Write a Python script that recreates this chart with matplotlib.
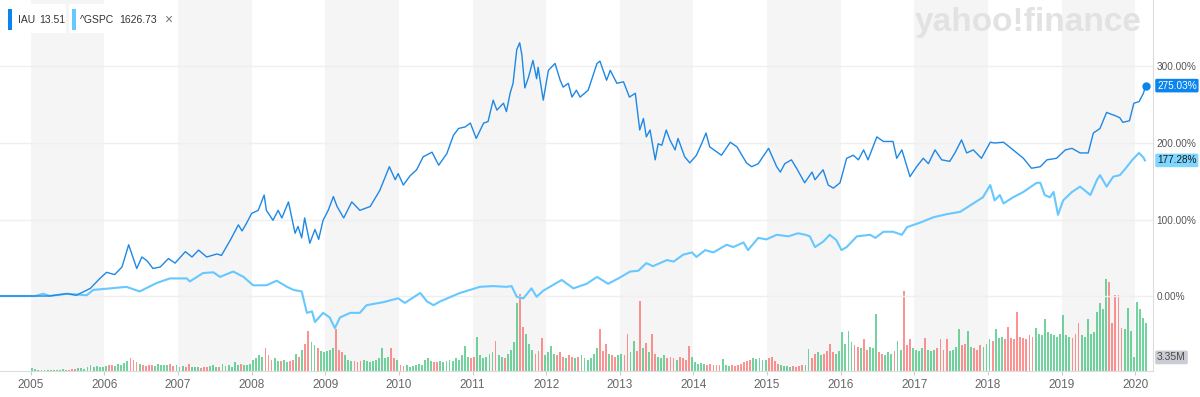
import numpy as np
import matplotlib
matplotlib.use("Agg")
import matplotlib.pyplot as plt
from matplotlib.patches import Rectangle

plt.rcParams['font.family'] = ['Liberation Sans', 'DejaVu Sans']

# IAU, % change since Jan 2005 (decimal year, percent)
iau_year = [2004.55, 2005.06, 2005.25, 2005.49, 2005.62, 2005.81, 2005.94, 2006.03, 2006.14, 2006.24,
            2006.33, 2006.44, 2006.51, 2006.58, 2006.66, 2006.76, 2006.87, 2006.96, 2007.10, 2007.19,
            2007.28, 2007.39, 2007.53, 2007.59, 2007.71, 2007.82, 2007.87, 2007.93, 2008.00, 2008.09,
            2008.17, 2008.20, 2008.29, 2008.36, 2008.41, 2008.50, 2008.59, 2008.63, 2008.68, 2008.72,
            2008.79, 2008.86, 2008.91, 2008.97, 2009.04, 2009.11, 2009.16, 2009.25, 2009.36, 2009.47,
            2009.61, 2009.74, 2009.87, 2009.95, 2009.99, 2010.06, 2010.15, 2010.24, 2010.33, 2010.45,
            2010.54, 2010.65, 2010.74, 2010.81, 2010.90, 2010.97, 2011.05, 2011.15, 2011.21, 2011.28,
            2011.33, 2011.42, 2011.46, 2011.51, 2011.55, 2011.60, 2011.64, 2011.67, 2011.71, 2011.76,
            2011.82, 2011.87, 2011.89, 2011.96, 2012.03, 2012.12, 2012.19, 2012.23, 2012.30, 2012.35,
            2012.41, 2012.46, 2012.57, 2012.69, 2012.73, 2012.82, 2012.87, 2012.96, 2013.05, 2013.13,
            2013.21, 2013.27, 2013.32, 2013.36, 2013.41, 2013.48, 2013.52, 2013.57, 2013.63, 2013.68,
            2013.75, 2013.79, 2013.88, 2013.95, 2014.04, 2014.11, 2014.17, 2014.22, 2014.38, 2014.50,
            2014.59, 2014.72, 2014.79, 2014.88, 2015.02, 2015.13, 2015.18, 2015.24, 2015.33, 2015.40,
            2015.51, 2015.61, 2015.65, 2015.76, 2015.83, 2015.90, 2015.99, 2016.08, 2016.17, 2016.24,
            2016.31, 2016.37, 2016.49, 2016.58, 2016.71, 2016.76, 2016.83, 2016.94, 2017.03, 2017.12,
            2017.19, 2017.28, 2017.37, 2017.48, 2017.55, 2017.64, 2017.71, 2017.80, 2017.91, 2018.03,
            2018.09, 2018.21, 2018.34, 2018.48, 2018.59, 2018.71, 2018.80, 2018.93, 2019.05, 2019.14,
            2019.25, 2019.36, 2019.43, 2019.52, 2019.61, 2019.66, 2019.72, 2019.79, 2019.83, 2019.92,
            2019.98, 2020.05, 2020.11, 2020.14]
iau_pct = [0, 0, 0, 3, 1, 10, 23, 31, 28, 38,
           67, 36, 51, 46, 36, 38, 49, 43, 58, 51,
           60, 51, 55, 53, 73, 93, 85, 95, 108, 112,
           132, 112, 99, 112, 102, 123, 82, 91, 76, 102,
           69, 87, 74, 99, 112, 130, 117, 102, 123, 112,
           117, 138, 169, 152, 160, 145, 157, 165, 182, 188,
           171, 186, 210, 219, 221, 226, 206, 226, 228, 256,
           243, 252, 241, 265, 278, 322, 331, 315, 272, 286,
           308, 284, 299, 256, 295, 304, 282, 273, 278, 260,
           269, 260, 269, 304, 307, 282, 295, 278, 280, 260,
           265, 217, 232, 208, 217, 178, 199, 197, 217, 204,
           191, 206, 182, 174, 184, 199, 213, 195, 184, 201,
           195, 174, 169, 173, 193, 169, 162, 173, 178, 167,
           148, 162, 152, 165, 145, 141, 148, 180, 184, 178,
           191, 178, 208, 202, 202, 180, 191, 156, 169, 180,
           173, 191, 178, 176, 187, 204, 187, 191, 180, 201,
           200, 201, 191, 180, 167, 169, 178, 180, 191, 193,
           187, 187, 213, 219, 240, 238, 236, 233, 227, 229,
           252, 254, 265, 275.03]

# ^GSPC, % change since Jan 2005
spx_year = [2004.55, 2005.06, 2005.17, 2005.26, 2005.49, 2005.76, 2005.85, 2006.08, 2006.30, 2006.48,
            2006.71, 2006.89, 2007.12, 2007.16, 2007.34, 2007.48, 2007.57, 2007.75, 2007.89, 2008.02,
            2008.20, 2008.34, 2008.48, 2008.57, 2008.68, 2008.75, 2008.82, 2008.86, 2008.97, 2009.06,
            2009.13, 2009.20, 2009.34, 2009.47, 2009.56, 2009.79, 2009.99, 2010.08, 2010.29, 2010.38,
            2010.47, 2010.56, 2010.83, 2011.10, 2011.28, 2011.46, 2011.53, 2011.60, 2011.69, 2011.80,
            2011.87, 2011.96, 2012.21, 2012.37, 2012.55, 2012.69, 2012.84, 2012.98, 2013.14, 2013.25,
            2013.36, 2013.45, 2013.64, 2013.73, 2013.86, 2013.98, 2014.04, 2014.16, 2014.27, 2014.45,
            2014.54, 2014.68, 2014.74, 2014.88, 2014.99, 2015.13, 2015.29, 2015.42, 2015.52, 2015.58,
            2015.65, 2015.76, 2015.85, 2015.94, 2016.01, 2016.08, 2016.22, 2016.40, 2016.47, 2016.58,
            2016.71, 2016.83, 2016.90, 2017.08, 2017.26, 2017.44, 2017.62, 2017.80, 2017.93, 2018.03,
            2018.09, 2018.16, 2018.21, 2018.34, 2018.48, 2018.66, 2018.71, 2018.77, 2018.84, 2018.89,
            2018.95, 2019.02, 2019.14, 2019.25, 2019.39, 2019.48, 2019.52, 2019.61, 2019.70, 2019.79,
            2019.87, 2019.96, 2020.05, 2020.11, 2020.13]
spx_pct = [0, 0, 3, 0, 3, 1, 8, 10, 12, 6,
           17, 23, 23, 19, 30, 31, 25, 32, 25, 14,
           14, 20, 12, 8, 6, -22, -20, -34, -22, -28,
           -42, -28, -22, -22, -12, -8, -3, -9, 4, -7,
           -12, -7, 4, 12, 13, 12, 13, -1, -3, 10,
           -1, 7, 21, 10, 16, 25, 16, 23, 32, 33,
           43, 39, 47, 45, 54, 57, 51, 60, 57, 67,
           64, 70, 60, 76, 74, 80, 78, 82, 80, 78,
           64, 71, 80, 73, 60, 64, 78, 80, 76, 84,
           84, 80, 90, 96, 103, 107, 110, 121, 129, 145,
           125, 132, 121, 129, 136, 148, 148, 132, 129, 136,
           106, 125, 136, 143, 132, 152, 158, 143, 156, 158,
           167, 178, 187, 181, 177.28]

# IAU volume, millions, twice a month from Jan 2005
volume = [
    0.2, 0.15, 0.1, 0.08, 0.07, 0.08, 0.07, 0.1, 0.08, 0.1, 0.12, 0.1, 0.1, 0.15, 0.12, 0.18, 0.2, 0.15, 0.25, 0.4, 0.3, 0.35, 0.25, 0.3,
    0.35, 0.4, 0.45, 0.35, 0.5, 0.4, 0.55, 0.7, 0.9, 0.8, 0.6, 0.5, 0.4, 0.35, 0.45, 0.4, 0.35, 0.5, 0.4, 0.45, 0.4, 0.5, 0.35, 0.4,
    0.3, 0.35, 0.25, 0.5, 0.3, 0.25, 0.3, 0.2, 0.25, 0.3, 0.35, 0.4, 0.3, 0.25, 0.5, 0.35, 0.4, 0.3, 0.6, 0.4, 0.5, 0.4, 0.45, 0.5,
    0.8, 0.9, 1.1, 1.0, 1.6, 1.1, 0.8, 0.9, 0.7, 0.7, 0.8, 0.6, 0.7, 0.8, 1.2, 1.0, 1.5, 1.9, 2.8, 2.0, 1.8, 1.6, 1.4, 1.3,
    1.4, 1.5, 1.6, 2.9, 1.5, 1.3, 1.1, 0.8, 0.7, 0.7, 0.6, 0.7, 0.8, 0.7, 0.6, 0.7, 0.8, 0.9, 1.6, 0.9, 1.0, 1.6, 0.9, 0.8,
    0.4, 0.35, 0.4, 0.3, 0.35, 0.4, 0.5, 0.4, 0.8, 0.9, 0.7, 0.6, 0.6, 0.7, 0.6, 0.7, 0.8, 0.7, 0.9, 0.8, 1.1, 1.75, 1.0, 0.9,
    1.0, 2.4, 1.1, 0.9, 1.0, 1.2, 1.3, 2.1, 1.1, 1.0, 0.9, 1.2, 1.5, 2.0, 4.75, 5.4, 3.1, 2.6, 1.9, 1.5, 1.2, 1.4, 2.3, 1.1,
    1.3, 1.75, 1.2, 1.1, 1.3, 1.0, 0.9, 1.1, 1.0, 0.9, 1.0, 1.1, 0.9, 0.8, 0.9, 1.2, 1.6, 2.9, 1.4, 1.9, 1.2, 1.1, 1.0, 1.1,
    1.2, 1.1, 2.6, 1.3, 2.1, 1.4, 4.9, 1.6, 1.95, 1.3, 2.6, 1.2, 1.0, 0.9, 1.1, 0.9, 1.0, 0.9, 0.8, 1.0, 0.9, 0.8, 1.75, 1.0,
    0.6, 0.5, 0.55, 0.5, 0.45, 0.5, 0.4, 0.45, 0.4, 0.85, 0.4, 0.35, 0.4, 0.35, 0.45, 0.5, 0.6, 0.7, 0.8, 0.9, 0.85, 0.9, 0.8, 0.75,
    0.9, 1.0, 0.7, 0.5, 0.4, 0.35, 0.35, 0.3, 0.35, 0.3, 0.35, 0.4, 0.45, 1.55, 0.9, 1.2, 1.3, 1.1, 1.2, 1.4, 1.9, 1.3, 1.2, 1.4,
    2.7, 1.9, 2.8, 2.0, 1.8, 1.7, 1.6, 2.2, 1.5, 1.7, 1.6, 4.0, 1.3, 1.2, 1.1, 1.3, 1.2, 1.4, 2.1, 1.5, 5.6, 1.8, 2.2, 1.6,
    1.5, 1.4, 1.6, 2.3, 1.5, 1.4, 1.5, 1.6, 2.2, 1.5, 2.2, 1.4, 1.5, 1.7, 2.9, 1.8, 1.9, 2.8, 1.7, 1.6, 1.5, 1.8, 1.7, 1.9,
    2.2, 2.1, 2.9, 2.3, 2.4, 2.2, 3.1, 2.3, 2.2, 4.1, 2.4, 2.3, 2.2, 2.5, 2.4, 3.0, 2.6, 2.5, 3.6, 2.7, 2.6, 2.5, 2.4, 2.6,
    3.9, 2.5, 2.4, 2.3, 2.6, 3.35, 2.5, 2.4, 3.6, 2.6, 2.7, 4.1, 4.75, 4.3, 6.4, 6.2, 3.35, 5.3, 5.3, 3.0, 2.9, 4.4, 2.8, 1.0,
    4.8, 4.3, 3.7, 3.35,
]

years = list(range(2005, 2021))
iau_label = ('IAU', '13.51')
spx_label = ('^GSPC', '1626.73')

IAU_COLOR = '#1e88e5'
SPX_COLOR = '#66c8ff'
GREEN = '#3cc27a'
RED = '#fb6a6a'

W, H = 1200, 397
fig = plt.figure(figsize=(W / 100, H / 100), dpi=100)

# volume axes underneath, price axes on top
ax_v = fig.add_axes([0, 26 / H, 1153 / W, 371 / H])
ax = ax_v.twinx()

x0, x1 = 2004.583, 2020.240
ax_v.set_xlim(x0, x1)
ax_v.set_ylim(0, 25.9)
ax.set_ylim(-98.0, 386.9)

# alternating year bands
for y in years[::2]:
    ax_v.axvspan(y, y + 1, color='#f5f5f5', lw=0, zorder=0)

# watermark
ax_v.text(1028 / 1153, 1 - 22 / 371, 'yahoo!finance', transform=ax_v.transAxes,
          ha='center', va='center', fontsize=24, fontweight='bold', color='#e2e2e2', zorder=1)

# volume bars coloured by IAU direction over the bar period
vol = np.array(volume)
vol_t = 2005 + (np.arange(len(vol)) + 0.5) / 24
p_end = np.interp(vol_t + 1 / 48, iau_year, iau_pct)
p_start = np.interp(vol_t - 1 / 48, iau_year, iau_pct)
colors = np.where(p_end >= p_start, GREEN, RED)
ax_v.bar(vol_t, vol, width=0.6 / 24, color=colors, alpha=0.72, lw=0, zorder=2)

# price lines
ax.plot(spx_year, spx_pct, color=SPX_COLOR, lw=1.5, zorder=3)
ax.plot(iau_year, iau_pct, color=IAU_COLOR, lw=1.0, zorder=4)
ax.plot(iau_year[-1], iau_pct[-1], 'o', ms=5, color='#0a84ee', zorder=5, clip_on=False)

# grid and axes styling
ax.set_yticks([0, 100, 200, 300])
ax.set_yticklabels([f'{v:.2f}%' for v in [0, 100, 200, 300]])
ax.grid(axis='y', color='#efefef', lw=1, zorder=1)
ax.tick_params(axis='y', length=0, pad=2.5, labelsize=7.2, labelcolor='#555555')
for s in ax.spines.values():
    s.set_visible(False)

ax_v.set_yticks([])
ax_v.set_xticks(years)
ax_v.set_xticklabels([str(y) for y in years])
ax_v.tick_params(axis='x', length=3, color='#cccccc', pad=3, labelsize=8.5, labelcolor='#666666')
ax_v.spines['top'].set_visible(False)
ax_v.spines['left'].set_visible(False)
ax_v.spines['bottom'].set_color('#dcdcdc')
ax_v.spines['right'].set_color('#dcdcdc')

# last value tags on the right
tag_box = dict(boxstyle='round,pad=0.18,rounding_size=0.15', ec='none')
ax.text(1.0035, iau_pct[-1], f'{iau_pct[-1]:.2f}%', transform=ax.get_yaxis_transform(),
        ha='left', va='center', fontsize=7.2, color='white', clip_on=False,
        bbox=dict(tag_box, fc='#0a84ee'))
ax.text(1.0035, spx_pct[-1], f'{spx_pct[-1]:.2f}%', transform=ax.get_yaxis_transform(),
        ha='left', va='center', fontsize=7.2, color='#1a1a1a', clip_on=False,
        bbox=dict(tag_box, fc='#7fd6ff'))
ax_v.text(1.0035, 0.6, f'{vol[-1]:.2f}M', transform=ax_v.get_yaxis_transform(),
          ha='left', va='bottom', fontsize=7.5, color='#4a4a4a', clip_on=False,
          bbox=dict(tag_box, fc='#cbccd3'))

# legend chips, top-left
def px(x, y):
    return x / W, 1 - y / H

fig.add_artist(Rectangle(px(4, 33), 62 / W, 29 / H, transform=fig.transFigure, fc='white', ec='none'))
fig.add_artist(Rectangle(px(69, 33), 106 / W, 29 / H, transform=fig.transFigure, fc='white', ec='none'))
fig.add_artist(Rectangle(px(8, 30), 4 / W, 21 / H, transform=fig.transFigure, fc='#0a84ee', ec='none'))
fig.add_artist(Rectangle(px(72, 30), 4 / W, 21 / H, transform=fig.transFigure, fc=SPX_COLOR, ec='none'))
legend_kw = dict(fontsize=7.5, color='#333333', va='center')
fig.text(*px(18, 20), iau_label[0], **legend_kw)
fig.text(*px(39, 20), iau_label[1], **legend_kw)
fig.text(*px(80, 20), spx_label[0], **legend_kw)
fig.text(*px(119, 20), spx_label[1], **legend_kw)
fig.text(*px(164, 20), '\u00d7', fontsize=10, color='#777777', va='center')

fig.savefig('out.png', dpi=100)
